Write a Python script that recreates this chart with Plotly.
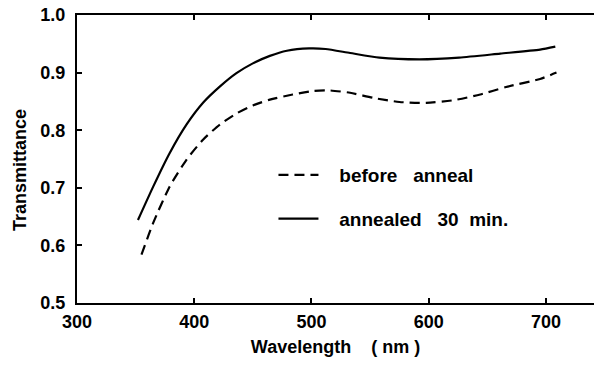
import plotly.graph_objects as go

# Transmittance spectra of the film, before and after a 30 min anneal
wl_annealed = [352, 365, 379, 393.5, 407.7, 422, 436, 450, 464.5, 479, 498, 512, 533, 558, 592, 626, 661, 695, 708]
t_annealed = [0.644, 0.702, 0.760, 0.810, 0.848, 0.876, 0.899, 0.916, 0.929, 0.938, 0.942, 0.941, 0.934, 0.926, 0.923, 0.926, 0.933, 0.940, 0.945]

wl_before = [355, 365, 379, 393.5, 407.7, 422, 436, 450, 464.5, 484, 501, 516, 533, 553, 575, 598, 621, 644, 666, 695, 709]
t_before = [0.584, 0.639, 0.702, 0.749, 0.784, 0.810, 0.829, 0.843, 0.853, 0.862, 0.868, 0.869, 0.865, 0.856, 0.849, 0.8475, 0.852, 0.862, 0.875, 0.889, 0.900]

x_ticks = [300, 400, 500, 600, 700]
y_ticks = [0.5, 0.6, 0.7, 0.8, 0.9, 1.0]

FONT = "Liberation Sans"
NB = "\u00a0"  # keeps the gap between legend sample and label

fig = go.Figure()
fig.add_trace(go.Scatter(
    x=wl_before, y=t_before, mode="lines", name=NB * 3 + "before" + NB * 3 + "anneal",
    line=dict(color="black", width=2.2, dash="10px,6px", shape="spline", smoothing=0.6),
    legendgroup="a",
))
fig.add_trace(go.Scatter(
    x=wl_annealed, y=t_annealed, mode="lines", name=NB * 3 + "annealed" + NB * 3 + "30" + NB * 2 + "min.",
    line=dict(color="black", width=2.2, shape="spline", smoothing=0.6),
    legendgroup="b",
))

fig.update_layout(
    width=594, height=367,
    margin=dict(l=77, r=0, t=15, b=64),
    paper_bgcolor="white", plot_bgcolor="white",
    font=dict(family=FONT, color="black"),
    showlegend=True,
    legend=dict(
        x=0.38, y=0.51, xanchor="left", yanchor="top",
        bgcolor="rgba(0,0,0,0)", tracegroupgap=16,
        font=dict(family=FONT, size=19, color="black", weight="bold"),
        itemwidth=40,
    ),
    annotations=[dict(
        text="Transmittance", textangle=-90,
        xref="paper", yref="paper", x=-0.11, y=0.462,
        xanchor="center", yanchor="middle", showarrow=False,
        font=dict(family=FONT, size=18, color="black", weight="bold"),
    )],
)

fig.update_xaxes(
    range=[300, 741], tickvals=x_ticks, ticktext=[str(v) for v in x_ticks],
    showgrid=False, zeroline=False,
    showline=True, linecolor="black", linewidth=2, mirror="ticks",
    ticks="inside", ticklen=5, tickwidth=2, tickcolor="black",
    ticklabelstandoff=1,
    tickfont=dict(family=FONT, size=18, color="black", weight="bold"),
    title=dict(text="Wavelength" + NB * 4 + "(" + NB + "nm" + NB + ")", standoff=10,
               font=dict(family=FONT, size=18, color="black", weight="bold")),
)
fig.update_yaxes(
    range=[0.5, 1.0], tickvals=y_ticks, ticktext=[f"{v:.1f}" for v in y_ticks],
    showgrid=False, zeroline=False,
    showline=True, linecolor="black", linewidth=2, mirror=False,
    ticks="inside", ticklen=5, tickwidth=2, tickcolor="black",
    ticklabelstandoff=6,
    tickfont=dict(family=FONT, size=18, color="black", weight="bold"),
)

fig.write_html("out.html")
